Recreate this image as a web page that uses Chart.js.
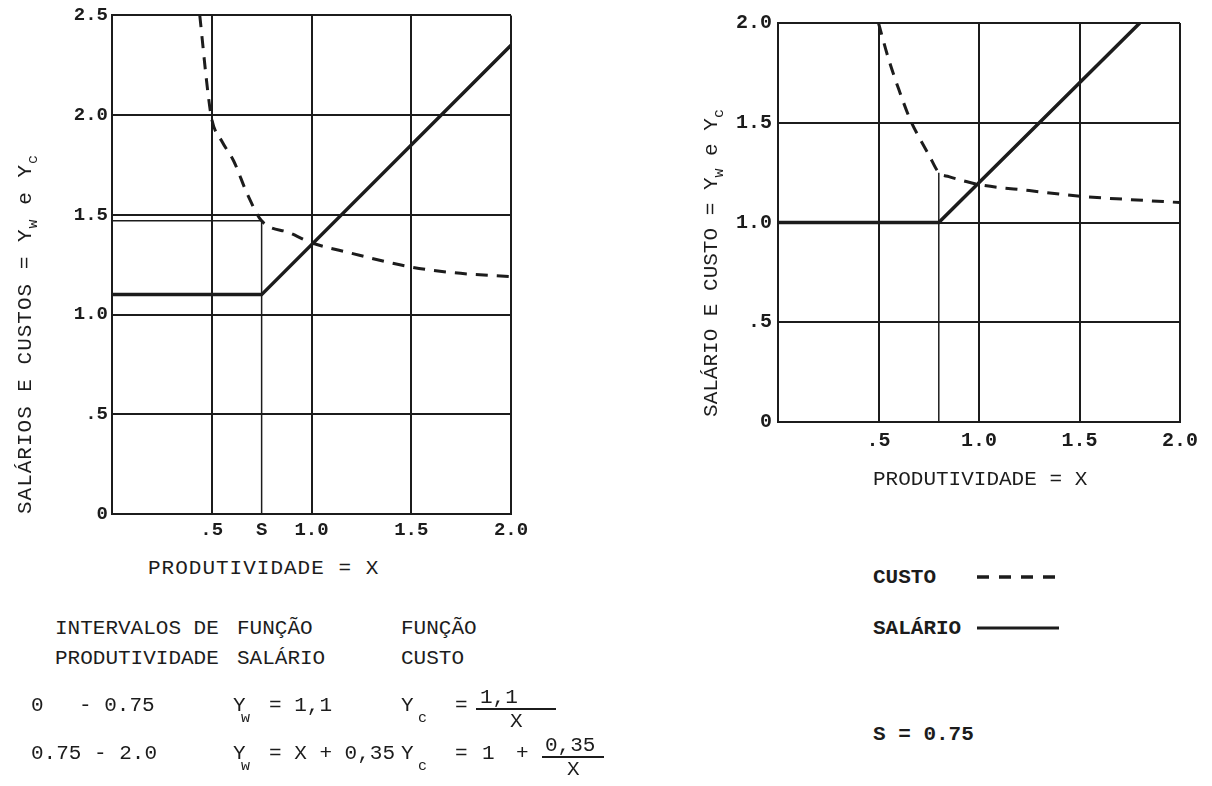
<!DOCTYPE html>
<html>
<head>
<meta charset="utf-8">
<script src="https://cdn.jsdelivr.net/npm/chart.js@4.4.1/dist/chart.umd.min.js"></script>
<style>
  html, body { margin: 0; padding: 0; background: #fff; }
  body {
    width: 1212px; height: 786px; position: relative; overflow: hidden;
    font-family: "Liberation Mono", "DejaVu Sans Mono", monospace; color: #1c1c1c;
  }
  canvas { position: absolute; }
  .t { position: absolute; white-space: pre; line-height: 1; font-size: 21px; }
  .bold { font-weight: bold; }
  .sub { font-size: 15px; }
  .rot { position: absolute; width: 440px; text-align: center; white-space: pre; font-size: 21px; line-height: 1; transform: rotate(-90deg); }
  .rot sub { font-size: 15px; vertical-align: -6px; }
  .frac { position: absolute; border-top: 2px solid #1c1c1c; height: 0; }
</style>
</head>
<body>
<canvas id="leftChart" width="545" height="550" style="left:0;top:0"></canvas>
<canvas id="rightChart" width="512" height="470" style="left:700px;top:0"></canvas>

<div class="rot" style="left:-192px;top:321px;letter-spacing:1px">SALÁRIOS E CUSTOS = Y<sub>w</sub> e Y<sub>c</sub></div>
<div class="t" style="left:148px;top:558px;letter-spacing:1px">PRODUTIVIDADE = X</div>

<div class="rot" style="left:494px;top:250px">SALÁRIO E CUSTO = Y<sub>w</sub> e Y<sub>c</sub></div>
<div class="t" style="left:873px;top:469px">PRODUTIVIDADE = X</div>

<!-- legend -->
<div class="t bold" style="left:873px;top:567px">CUSTO</div>
<svg style="position:absolute;left:977px;top:571px" width="84" height="12">
  <line x1="0" y1="6" x2="82" y2="6" stroke="#1c1c1c" stroke-width="3.5" stroke-dasharray="12 10"/>
</svg>
<div class="t bold" style="left:873px;top:618px">SALÁRIO</div>
<svg style="position:absolute;left:977px;top:622px" width="84" height="12">
  <line x1="0" y1="6" x2="82" y2="6" stroke="#1c1c1c" stroke-width="3"/>
</svg>
<div class="t bold" style="left:873px;top:724px">S = 0.75</div>

<!-- table of functions -->
<div class="t" style="left:55px;top:618px">INTERVALOS DE</div>
<div class="t" style="left:237px;top:618px">FUNÇÃO</div>
<div class="t" style="left:401px;top:618px">FUNÇÃO</div>
<div class="t" style="left:55px;top:648px">PRODUTIVIDADE</div>
<div class="t" style="left:237px;top:648px">SALÁRIO</div>
<div class="t" style="left:401px;top:648px">CUSTO</div>

<div class="t" style="left:31px;top:695px">0</div>
<div class="t" style="left:79px;top:695px">- 0.75</div>
<div class="t" style="left:31px;top:743px">0.75 - 2.0</div>

<div class="t" style="left:233px;top:695px">Y</div>
<div class="t sub" style="left:241px;top:711px">w</div>
<div class="t" style="left:269px;top:695px">= 1,1</div>
<div class="t" style="left:233px;top:743px">Y</div>
<div class="t sub" style="left:241px;top:759px">w</div>
<div class="t" style="left:269px;top:743px">= X + 0,35</div>

<div class="t" style="left:401px;top:695px">Y</div>
<div class="t sub" style="left:418px;top:711px">c</div>
<div class="t" style="left:455px;top:695px">=</div>
<div class="t" style="left:480px;top:687px">1,1</div>
<div class="frac" style="left:476px;top:708px;width:80px"></div>
<div class="t" style="left:510px;top:711px">X</div>

<div class="t" style="left:401px;top:743px">Y</div>
<div class="t sub" style="left:418px;top:759px">c</div>
<div class="t" style="left:455px;top:743px">=</div>
<div class="t" style="left:482px;top:743px">1</div>
<div class="t" style="left:516px;top:743px">+</div>
<div class="t" style="left:545px;top:735px">0,35</div>
<div class="frac" style="left:542px;top:756px;width:62px"></div>
<div class="t" style="left:567px;top:759px">X</div>

<script>
// left panel (S = 0.75)
const leftXTicks = [0.5, 0.75, 1.0, 1.5, 2.0];
const leftXLabels = [".5", "S", "1.0", "1.5", "2.0"];
const leftYTicks = [0, 0.5, 1.0, 1.5, 2.0, 2.5];
const leftYLabels = ["0", ".5", "1.0", "1.5", "2.0", "2.5"];
const leftCostX = [0.44, 0.48, 0.5, 0.55, 0.61, 0.68, 0.75, 0.89, 1.0, 1.19, 1.49, 1.71, 2.0];
const leftCostY = [2.5, 2.12, 1.98, 1.87, 1.77, 1.6, 1.47, 1.41, 1.36, 1.31, 1.24, 1.21, 1.19];
const leftWageX = [0, 0.75, 2.0];
const leftWageY = [1.1, 1.1, 2.35];
const leftGuideX = [0, 0.75, 0.75];
const leftGuideY = [1.47, 1.47, 0];

// right panel
const rightXTicks = [0.5, 1.0, 1.5, 2.0];
const rightXLabels = [".5", "1.0", "1.5", "2.0"];
const rightYTicks = [0, 0.5, 1.0, 1.5, 2.0];
const rightYLabels = ["0", ".5", "1.0", "1.5", "2.0"];
const rightCostX = [0.5, 0.55, 0.6, 0.66, 0.7, 0.75, 0.8, 0.85, 0.92, 1.0, 1.25, 1.52, 1.75, 2.0];
const rightCostY = [2.0, 1.82, 1.67, 1.51, 1.43, 1.34, 1.25, 1.23, 1.21, 1.19, 1.16, 1.13, 1.115, 1.1];
const rightWageX = [0, 0.8, 1.8];
const rightWageY = [1.0, 1.0, 2.0];
const rightGuideX = [0.8, 0.8];
const rightGuideY = [0, 1.25];

const FONT = '"Liberation Mono", "DejaVu Sans Mono", monospace';
const INK = "#1c1c1c";

function pairs(xs, ys) {
  return xs.map((x, i) => ({ x: x, y: ys[i] }));
}

function buildChart(id, p) {
  const ctx = document.getElementById(id);
  return new Chart(ctx, {
    type: "line",
    data: {
      datasets: [
        { data: pairs(p.guideX, p.guideY), borderColor: INK, borderWidth: 1.5 },
        { data: pairs(p.wageX, p.wageY), borderColor: INK, borderWidth: 3.5 },
        {
          data: pairs(p.costX, p.costY),
          borderColor: INK,
          borderWidth: 3,
          borderDash: [12, 9],
          cubicInterpolationMode: "monotone",
        },
      ],
    },
    options: {
      responsive: false,
      animation: false,
      layout: { padding: { top: p.padTop, right: p.padRight, left: 0, bottom: 0 } },
      elements: { point: { radius: 0 }, line: { fill: false } },
      plugins: { legend: { display: false }, tooltip: { enabled: false } },
      scales: {
        x: {
          type: "linear",
          min: 0,
          max: 2,
          afterBuildTicks: (s) => { s.ticks = p.xTicks.map((v) => ({ value: v })); },
          afterFit: (s) => { s.height = p.xAxisHeight; },
          ticks: {
            autoSkip: false,
            maxRotation: 0,
            padding: p.xPad,
            color: INK,
            font: { family: FONT, size: p.tickSize, weight: "bold" },
            callback: (v, i) => p.xLabels[i],
          },
          grid: {
            color: (c) => (c.tick && c.tick.value === 0.75 ? "rgba(0,0,0,0)" : INK),
            lineWidth: 2,
            drawTicks: false,
          },
          border: { color: INK, width: 2 },
        },
        y: {
          type: "linear",
          min: 0,
          max: p.yMax,
          afterBuildTicks: (s) => { s.ticks = p.yTicks.map((v) => ({ value: v })); },
          afterFit: (s) => { s.width = p.yAxisWidth; },
          ticks: {
            autoSkip: false,
            padding: p.yPad,
            color: INK,
            font: { family: FONT, size: p.tickSize, weight: "bold" },
            callback: (v, i) => p.yLabels[i],
          },
          grid: { color: INK, lineWidth: 2, drawTicks: false },
          border: { color: INK, width: 2 },
        },
      },
    },
  });
}

buildChart("leftChart", {
  xTicks: leftXTicks, xLabels: leftXLabels, yTicks: leftYTicks, yLabels: leftYLabels,
  costX: leftCostX, costY: leftCostY, wageX: leftWageX, wageY: leftWageY,
  guideX: leftGuideX, guideY: leftGuideY,
  yMax: 2.5, padTop: 15, padRight: 34, xAxisHeight: 36, yAxisWidth: 112,
  xPad: 5, yPad: 4, tickSize: 19,
});

buildChart("rightChart", {
  xTicks: rightXTicks, xLabels: rightXLabels, yTicks: rightYTicks, yLabels: rightYLabels,
  costX: rightCostX, costY: rightCostY, wageX: rightWageX, wageY: rightWageY,
  guideX: rightGuideX, guideY: rightGuideY,
  yMax: 2.0, padTop: 23, padRight: 32, xAxisHeight: 48, yAxisWidth: 78,
  xPad: 7, yPad: 6, tickSize: 20,
});
</script>
</body>
</html>
